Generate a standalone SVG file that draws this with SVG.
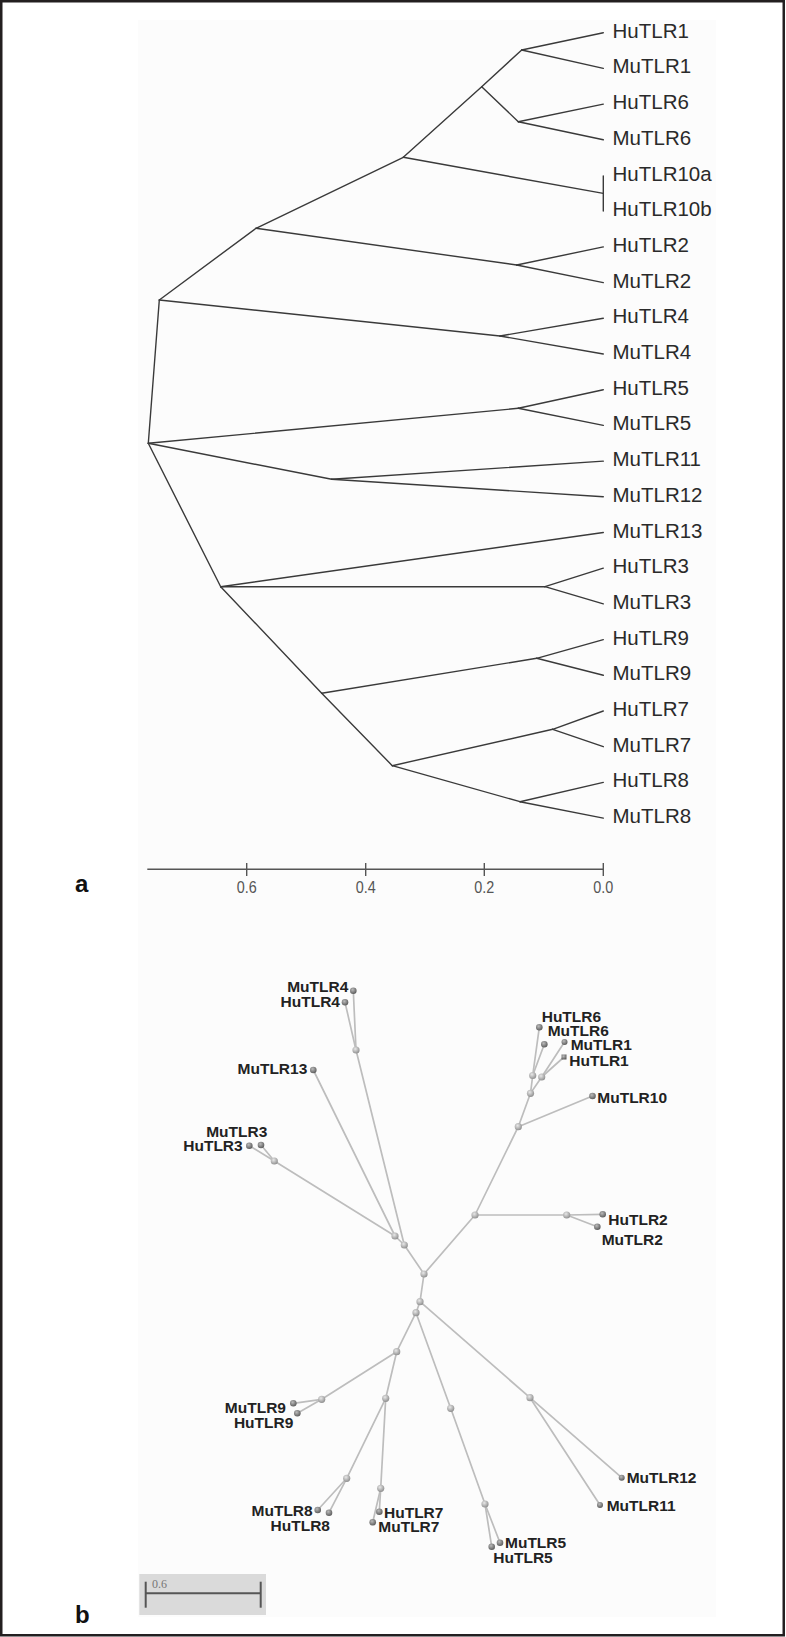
<svg xmlns="http://www.w3.org/2000/svg" width="786" height="1637" viewBox="0 0 786 1637">
<style>
.ta{font-family:"Liberation Sans",Arial,sans-serif;font-size:20.5px;fill:#2a2a2a}
.tb{font-family:"Liberation Sans",Arial,sans-serif;font-size:15.5px;font-weight:bold;fill:#222}
.ax{font-family:"Liberation Sans",Arial,sans-serif;font-size:17px;fill:#555}
.pl{font-family:"Liberation Sans",Arial,sans-serif;font-size:24px;font-weight:bold;fill:#111}
.ea line{stroke:#3a3a3a;stroke-width:1.4;stroke-linecap:round}
.eb line{stroke:#bdbdbd;stroke-width:1.7;stroke-linecap:round}
.in{fill:url(#gi)}
.lf{fill:url(#gl)}
</style>
<defs>
<radialGradient id="gi" cx="0.4" cy="0.35" r="0.7"><stop offset="0" stop-color="#e8e8e8"/><stop offset="1" stop-color="#8a8a8a"/></radialGradient>
<radialGradient id="gl" cx="0.4" cy="0.35" r="0.7"><stop offset="0" stop-color="#bbbbbb"/><stop offset="1" stop-color="#555555"/></radialGradient>
</defs>
<rect x="0" y="0" width="786" height="1637" fill="#ffffff"/>
<rect x="138" y="20" width="578" height="1597" fill="#fcfcfc"/>
<rect x="1.25" y="1.25" width="782.5" height="1634" fill="none" stroke="#231f20" stroke-width="2.5"/>

<!-- Panel a connectors -->
<g id="tree-a-edges" class="ea">
<line x1="521.7" y1="50" x2="603.3" y2="32.7"/>
<line x1="521.7" y1="50" x2="603.3" y2="68.4"/>
<line x1="518.3" y1="121.7" x2="603.3" y2="104.1"/>
<line x1="518.3" y1="121.7" x2="603.3" y2="139.8"/>
<line x1="481.7" y1="86.7" x2="521.7" y2="50"/>
<line x1="481.7" y1="86.7" x2="518.3" y2="121.7"/>
<line x1="403.3" y1="157.3" x2="481.7" y2="86.7"/>
<line x1="403.3" y1="157.3" x2="603.3" y2="193.4"/>
<line x1="603.3" y1="176" x2="603.3" y2="211"/>
<line x1="516.7" y1="265" x2="603.3" y2="246.9"/>
<line x1="516.7" y1="265" x2="603.3" y2="282.6"/>
<line x1="256" y1="228.3" x2="403.3" y2="157.3"/>
<line x1="256" y1="228.3" x2="516.7" y2="265"/>
<line x1="500" y1="336" x2="603.3" y2="318.3"/>
<line x1="500" y1="336" x2="603.3" y2="354"/>
<line x1="159.3" y1="300" x2="256" y2="228.3"/>
<line x1="159.3" y1="300" x2="500" y2="336"/>
<line x1="148.3" y1="443.3" x2="159.3" y2="300"/>
<line x1="518.3" y1="408.3" x2="603.3" y2="389.7"/>
<line x1="518.3" y1="408.3" x2="603.3" y2="425.4"/>
<line x1="148.3" y1="443.3" x2="518.3" y2="408.3"/>
<line x1="331.7" y1="479.3" x2="603.3" y2="461.1"/>
<line x1="331.7" y1="479.3" x2="603.3" y2="496.8"/>
<line x1="148.3" y1="443.3" x2="331.7" y2="479.3"/>
<line x1="148.3" y1="443.3" x2="220.7" y2="586.7"/>
<line x1="220.7" y1="586.7" x2="603.3" y2="532.5"/>
<line x1="220.7" y1="586.7" x2="545" y2="586.7"/>
<line x1="545" y1="586.7" x2="603.3" y2="568.2"/>
<line x1="545" y1="586.7" x2="603.3" y2="603.9"/>
<line x1="220.7" y1="586.7" x2="321.7" y2="693.3"/>
<line x1="536.7" y1="658.3" x2="603.3" y2="639.6"/>
<line x1="536.7" y1="658.3" x2="603.3" y2="675.3"/>
<line x1="321.7" y1="693.3" x2="536.7" y2="658.3"/>
<line x1="321.7" y1="693.3" x2="392.3" y2="765.7"/>
<line x1="552.7" y1="729.3" x2="603.3" y2="711"/>
<line x1="552.7" y1="729.3" x2="603.3" y2="746.7"/>
<line x1="520" y1="801.7" x2="603.3" y2="782.4"/>
<line x1="520" y1="801.7" x2="603.3" y2="818.1"/>
<line x1="392.3" y1="765.7" x2="552.7" y2="729.3"/>
<line x1="392.3" y1="765.7" x2="520" y2="801.7"/>
</g>

<g id="tree-a-leaves" class="ta">
<text id="a-HuTLR1" x="612.5" y="37.7">HuTLR1</text>
<text id="a-MuTLR1" x="612.5" y="73.4">MuTLR1</text>
<text id="a-HuTLR6" x="612.5" y="109.1">HuTLR6</text>
<text id="a-MuTLR6" x="612.5" y="144.8">MuTLR6</text>
<text id="a-HuTLR10a" x="612.5" y="180.5">HuTLR10a</text>
<text id="a-HuTLR10b" x="612.5" y="216.2">HuTLR10b</text>
<text id="a-HuTLR2" x="612.5" y="251.9">HuTLR2</text>
<text id="a-MuTLR2" x="612.5" y="287.6">MuTLR2</text>
<text id="a-HuTLR4" x="612.5" y="323.3">HuTLR4</text>
<text id="a-MuTLR4" x="612.5" y="359">MuTLR4</text>
<text id="a-HuTLR5" x="612.5" y="394.7">HuTLR5</text>
<text id="a-MuTLR5" x="612.5" y="430.4">MuTLR5</text>
<text id="a-MuTLR11" x="612.5" y="466.1">MuTLR11</text>
<text id="a-MuTLR12" x="612.5" y="501.8">MuTLR12</text>
<text id="a-MuTLR13" x="612.5" y="537.5">MuTLR13</text>
<text id="a-HuTLR3" x="612.5" y="573.2">HuTLR3</text>
<text id="a-MuTLR3" x="612.5" y="608.9">MuTLR3</text>
<text id="a-HuTLR9" x="612.5" y="644.6">HuTLR9</text>
<text id="a-MuTLR9" x="612.5" y="680.3">MuTLR9</text>
<text id="a-HuTLR7" x="612.5" y="716">HuTLR7</text>
<text id="a-MuTLR7" x="612.5" y="751.7">MuTLR7</text>
<text id="a-HuTLR8" x="612.5" y="787.4">HuTLR8</text>
<text id="a-MuTLR8" x="612.5" y="823.1">MuTLR8</text>
</g>

<g id="axis-a">
<line x1="147.3" y1="869.3" x2="603.3" y2="869.3" stroke="#555" stroke-width="1.6"/>
<line x1="246.7" y1="863" x2="246.7" y2="876" stroke="#555" stroke-width="1.4"/>
<line x1="365.7" y1="863" x2="365.7" y2="876" stroke="#555" stroke-width="1.4"/>
<line x1="484.3" y1="863" x2="484.3" y2="876" stroke="#555" stroke-width="1.4"/>
<line x1="603.3" y1="863" x2="603.3" y2="876" stroke="#555" stroke-width="1.4"/>
<text class="ax" x="246.7" y="893" text-anchor="middle" textLength="20" lengthAdjust="spacingAndGlyphs">0.6</text>
<text class="ax" x="365.7" y="893" text-anchor="middle" textLength="20" lengthAdjust="spacingAndGlyphs">0.4</text>
<text class="ax" x="484.3" y="893" text-anchor="middle" textLength="20" lengthAdjust="spacingAndGlyphs">0.2</text>
<text class="ax" x="603.3" y="893" text-anchor="middle" textLength="20" lengthAdjust="spacingAndGlyphs">0.0</text>
</g>
<text id="label-a" class="pl" x="75" y="892">a</text>

<!-- Panel b connectors -->
<g id="tree-b-edges" class="eb">
<line x1="356" y1="1050" x2="353.3" y2="990.7"/>
<line x1="356" y1="1050" x2="345" y2="1002.3"/>
<line x1="356" y1="1050" x2="404.3" y2="1245"/>
<line x1="313.3" y1="1070" x2="395" y2="1236"/>
<line x1="274.3" y1="1161" x2="395" y2="1236"/>
<line x1="274.3" y1="1161" x2="261" y2="1145"/>
<line x1="274.3" y1="1161" x2="249.3" y2="1145.7"/>
<line x1="395" y1="1236" x2="404.3" y2="1245"/>
<line x1="404.3" y1="1245" x2="424" y2="1274"/>
<line x1="475" y1="1215" x2="424" y2="1274"/>
<line x1="475" y1="1215" x2="566.7" y2="1215"/>
<line x1="566.7" y1="1215" x2="602.7" y2="1214.3"/>
<line x1="566.7" y1="1215" x2="597.3" y2="1226.7"/>
<line x1="475" y1="1215" x2="518.3" y2="1126.7"/>
<line x1="518.3" y1="1126.7" x2="592.5" y2="1096"/>
<line x1="518.3" y1="1126.7" x2="530.5" y2="1093.3"/>
<line x1="530.5" y1="1093.3" x2="532.7" y2="1075.5"/>
<line x1="530.5" y1="1093.3" x2="541.7" y2="1077"/>
<line x1="532.7" y1="1075.5" x2="539.3" y2="1027.3"/>
<line x1="532.7" y1="1075.5" x2="544.3" y2="1044.3"/>
<line x1="541.7" y1="1077" x2="564.5" y2="1042"/>
<line x1="541.7" y1="1077" x2="564" y2="1057"/>
<line x1="424" y1="1274" x2="420" y2="1301.7"/>
<line x1="420" y1="1301.7" x2="416" y2="1312.7"/>
<line x1="420" y1="1301.7" x2="530" y2="1397.7"/>
<line x1="530" y1="1397.7" x2="621.7" y2="1477.7"/>
<line x1="530" y1="1397.7" x2="600" y2="1505"/>
<line x1="416" y1="1312.7" x2="396.7" y2="1351.7"/>
<line x1="416" y1="1312.7" x2="450.7" y2="1408.3"/>
<line x1="450.7" y1="1408.3" x2="485" y2="1504"/>
<line x1="485" y1="1504" x2="500" y2="1542.7"/>
<line x1="485" y1="1504" x2="491.7" y2="1546.7"/>
<line x1="396.7" y1="1351.7" x2="321.7" y2="1399.3"/>
<line x1="396.7" y1="1351.7" x2="385.7" y2="1398.3"/>
<line x1="321.7" y1="1399.3" x2="293.3" y2="1403.3"/>
<line x1="321.7" y1="1399.3" x2="297.3" y2="1413.3"/>
<line x1="385.7" y1="1398.3" x2="346.7" y2="1478.3"/>
<line x1="385.7" y1="1398.3" x2="380.7" y2="1488.3"/>
<line x1="346.7" y1="1478.3" x2="317.7" y2="1510"/>
<line x1="346.7" y1="1478.3" x2="329" y2="1512.7"/>
<line x1="380.7" y1="1488.3" x2="379.3" y2="1511.7"/>
<line x1="380.7" y1="1488.3" x2="372.7" y2="1522.3"/>
</g>

<g id="tree-b-internal">
<circle class="in" cx="356" cy="1050" r="3.6"/>
<circle class="in" cx="274.3" cy="1161" r="3.6"/>
<circle class="in" cx="395" cy="1236" r="3.6"/>
<circle class="in" cx="404.3" cy="1245" r="3.6"/>
<circle class="in" cx="424" cy="1274" r="3.6"/>
<circle class="in" cx="475" cy="1215" r="3.6"/>
<circle class="in" cx="566.7" cy="1215" r="3.6"/>
<circle class="in" cx="518.3" cy="1126.7" r="3.6"/>
<circle class="in" cx="530.5" cy="1093.3" r="3.6"/>
<circle class="in" cx="532.7" cy="1075.5" r="3.6"/>
<circle class="in" cx="541.7" cy="1077" r="3.6"/>
<circle class="in" cx="420" cy="1301.7" r="3.6"/>
<circle class="in" cx="416" cy="1312.7" r="3.6"/>
<circle class="in" cx="530" cy="1397.7" r="3.6"/>
<circle class="in" cx="396.7" cy="1351.7" r="3.6"/>
<circle class="in" cx="450.7" cy="1408.3" r="3.6"/>
<circle class="in" cx="485" cy="1504" r="3.6"/>
<circle class="in" cx="321.7" cy="1399.3" r="3.6"/>
<circle class="in" cx="385.7" cy="1398.3" r="3.6"/>
<circle class="in" cx="346.7" cy="1478.3" r="3.6"/>
<circle class="in" cx="380.7" cy="1488.3" r="3.6"/>
</g>

<g id="b-MuTLR4"><circle class="lf" cx="353.3" cy="990.7" r="3.3"/><text class="tb" x="348.3" y="992.3" text-anchor="end">MuTLR4</text></g>
<g id="b-HuTLR4"><circle class="lf" cx="345" cy="1002.3" r="3.3"/><text class="tb" x="340" y="1006.7" text-anchor="end">HuTLR4</text></g>
<g id="b-MuTLR13"><circle class="lf" cx="313.3" cy="1070" r="3.3"/><text class="tb" x="307.3" y="1074.3" text-anchor="end">MuTLR13</text></g>
<g id="b-MuTLR3"><circle class="lf" cx="261" cy="1145" r="3.3"/><text class="tb" x="267.3" y="1136.7" text-anchor="end">MuTLR3</text></g>
<g id="b-HuTLR3"><circle class="lf" cx="249.3" cy="1145.7" r="3.3"/><text class="tb" x="242.7" y="1150.7" text-anchor="end">HuTLR3</text></g>
<g id="b-HuTLR6"><circle class="lf" cx="539.3" cy="1027.3" r="3.3"/><text class="tb" x="541.7" y="1021.7">HuTLR6</text></g>
<g id="b-MuTLR6"><circle class="lf" cx="544.3" cy="1044.3" r="3.3"/><text class="tb" x="547.7" y="1036">MuTLR6</text></g>
<g id="b-MuTLR1"><circle class="lf" cx="564.5" cy="1042" r="3"/><text class="tb" x="570.7" y="1050">MuTLR1</text></g>
<g id="b-HuTLR1"><rect class="lf" x="561.5" y="1054.5" width="5" height="5"/><text class="tb" x="569.3" y="1066">HuTLR1</text></g>
<g id="b-MuTLR10"><circle class="lf" cx="592.5" cy="1096" r="3.3"/><text class="tb" x="597.3" y="1103.3">MuTLR10</text></g>
<g id="b-HuTLR2"><circle class="lf" cx="602.7" cy="1214.3" r="3.3"/><text class="tb" x="608.3" y="1225">HuTLR2</text></g>
<g id="b-MuTLR2"><circle class="lf" cx="597.3" cy="1226.7" r="3.3"/><text class="tb" x="601.7" y="1245">MuTLR2</text></g>
<g id="b-MuTLR9"><circle class="lf" cx="293.3" cy="1403.3" r="3.3"/><text class="tb" x="286" y="1412.7" text-anchor="end">MuTLR9</text></g>
<g id="b-HuTLR9"><circle class="lf" cx="297.3" cy="1413.3" r="3.3"/><text class="tb" x="293.3" y="1428.3" text-anchor="end">HuTLR9</text></g>
<g id="b-MuTLR8"><circle class="lf" cx="317.7" cy="1510" r="3.3"/><text class="tb" x="312.7" y="1516" text-anchor="end">MuTLR8</text></g>
<g id="b-HuTLR8"><circle class="lf" cx="329" cy="1512.7" r="3.3"/><text class="tb" x="330" y="1530.7" text-anchor="end">HuTLR8</text></g>
<g id="b-HuTLR7"><circle class="lf" cx="379.3" cy="1511.7" r="3.3"/><text class="tb" x="384" y="1517.7">HuTLR7</text></g>
<g id="b-MuTLR7"><circle class="lf" cx="372.7" cy="1522.3" r="3.3"/><text class="tb" x="378.3" y="1531.7">MuTLR7</text></g>
<g id="b-MuTLR5"><circle class="lf" cx="500" cy="1542.7" r="3.3"/><text class="tb" x="505" y="1548.3">MuTLR5</text></g>
<g id="b-HuTLR5"><circle class="lf" cx="491.7" cy="1546.7" r="3.3"/><text class="tb" x="493.3" y="1563.3">HuTLR5</text></g>
<g id="b-MuTLR12"><circle class="lf" cx="621.7" cy="1477.7" r="3"/><text class="tb" x="626.7" y="1483.3">MuTLR12</text></g>
<g id="b-MuTLR11"><circle class="lf" cx="600" cy="1505" r="3"/><text class="tb" x="606.7" y="1510.7">MuTLR11</text></g>

<g id="scale-b">
<rect x="139.3" y="1574" width="126.7" height="41" fill="#dadada"/>
<line x1="145.7" y1="1593.3" x2="260.7" y2="1593.3" stroke="#555" stroke-width="2"/>
<line x1="145.7" y1="1581.7" x2="145.7" y2="1607.7" stroke="#555" stroke-width="2"/>
<line x1="260.7" y1="1581.7" x2="260.7" y2="1607.7" stroke="#555" stroke-width="2"/>
<text x="152" y="1588" font-family="Liberation Serif, serif" font-size="12" fill="#777">0.6</text>
</g>
<text id="label-b" class="pl" x="75" y="1623">b</text>
</svg>
